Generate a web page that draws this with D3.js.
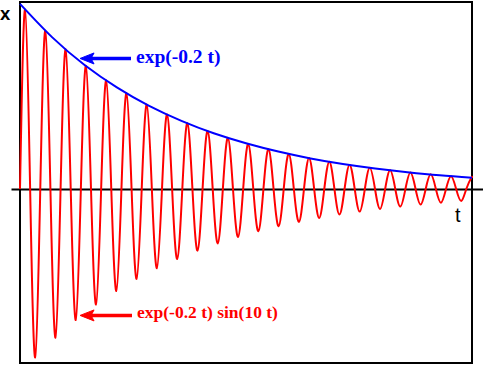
<!DOCTYPE html>
<html>
<head>
<meta charset="utf-8">
<script src="https://cdn.jsdelivr.net/npm/d3@7"></script>
<style>
  html, body { margin: 0; padding: 0; background: #fff; }
  svg { display: block; }
</style>
</head>
<body>
<svg id="chart" width="483" height="366"></svg>
<script>
// ---- data ----
const curveT = [0, 0.157, 0.314, 0.471, 0.628, 0.785, 0.942, 1.100, 1.257, 1.414,
  1.571, 1.728, 1.885, 2.042, 2.199, 2.356, 2.513, 2.670, 2.827, 2.985,
  3.142, 3.299, 3.456, 3.613, 3.770, 3.927, 4.084, 4.241, 4.398, 4.555,
  4.712, 4.869, 5.027, 5.184, 5.341, 5.498, 5.655, 5.812, 5.969, 6.126,
  6.283, 6.440, 6.597, 6.754, 6.912, 7.069, 7.226, 7.383, 7.540, 7.697,
  7.854, 8.011, 8.168, 8.325, 8.482, 8.639, 8.796, 8.954, 9.111, 9.268,
  9.425, 9.582, 9.739, 9.896, 10.053, 10.210, 10.367, 10.524, 10.681, 10.838,
  10.996, 11.153, 11.310, 11.467, 11.624, 11.781, 11.938, 12.095, 12.252, 12.409,
  12.566, 12.723, 12.881, 13.038, 13.195, 13.352, 13.509, 13.666, 13.823, 13.980,
  14.000];
const curveX = [0, 0.969, 0, -0.910, 0, 0.855, 0, -0.803, 0, 0.754,
  0, -0.708, 0, 0.665, 0, -0.624, 0, 0.586, 0, -0.551,
  0, 0.517, 0, -0.486, 0, 0.456, 0, -0.428, 0, 0.402,
  0, -0.378, 0, 0.355, 0, -0.333, 0, 0.313, 0, -0.294,
  0, 0.276, 0, -0.259, 0, 0.243, 0, -0.228, 0, 0.215,
  0, -0.201, 0, 0.189, 0, -0.178, 0, 0.167, 0, -0.157,
  0, 0.147, 0, -0.138, 0, 0.130, 0, -0.122, 0, 0.114,
  0, -0.108, 0, 0.101, 0, -0.095, 0, 0.089, 0, -0.084,
  0, 0.079, 0, -0.074, 0, 0.069, 0, -0.065, 0, 0.061,
  0.060];
const envT = [0, 1, 2, 3, 4, 5, 6, 7, 8, 9, 10, 11, 12, 13, 14];
const envX = [1, 0.819, 0.670, 0.549, 0.449, 0.368, 0.301, 0.247, 0.202, 0.165,
  0.135, 0.111, 0.091, 0.074, 0.061];
const tDomain = [0, 14];
const xDomain = [-0.94, 1.01];
const axisLabels = ["x", "t"];
const seriesLabels = ["exp(-0.2 t)", "exp(-0.2 t) sin(10 t)"];
// arrow targets (data coords) for the annotations
const arrowTargets = [[1.86, 0.705], [1.86, -0.683]];

// ---- drawing ----
const svg = d3.select("#chart");
const frame = { left: 20, right: 472, top: 2, bottom: 363 };

const x = d3.scaleLinear().domain(tDomain).range([frame.left, frame.right]);
const y = d3.scaleLinear().domain(xDomain).range([frame.bottom, frame.top]);

// horizontal axis line (x = 0)
const axisScale = d3.scaleLinear().domain(tDomain).range([11, 483]);
svg.append("g")
  .attr("transform", `translate(0,${y(0)})`)
  .call(d3.axisBottom(axisScale).tickValues([]).tickSizeOuter(0))
  .call(g => g.select(".domain").attr("stroke", "#000").attr("stroke-width", 2));

// frame
svg.append("rect")
  .attr("x", frame.left).attr("y", frame.top)
  .attr("width", frame.right - frame.left).attr("height", frame.bottom - frame.top)
  .attr("fill", "none").attr("stroke", "#000").attr("stroke-width", 2);

// red damped oscillation
const redData = curveT.map((t, i) => [t, curveX[i]]);
svg.append("path")
  .datum(redData)
  .attr("fill", "none").attr("stroke", "#ff0000").attr("stroke-width", 2)
  .attr("d", d3.line().x(d => x(d[0])).y(d => y(d[1])).curve(d3.curveNatural));

// blue envelope
const blueData = envT.map((t, i) => [t, envX[i]]);
svg.append("path")
  .datum(blueData)
  .attr("fill", "none").attr("stroke", "#0000ff").attr("stroke-width", 2)
  .attr("d", d3.line().x(d => x(d[0])).y(d => y(d[1])).curve(d3.curveNatural));

// axis labels
svg.append("text").attr("x", 0).attr("y", 19.5)
  .attr("font-family", "'Liberation Sans', Arial, sans-serif")
  .attr("font-weight", "bold").attr("font-size", 18.5).attr("fill", "#000")
  .text(axisLabels[0]);
svg.append("text").attr("x", 455).attr("y", 222)
  .attr("font-family", "'Liberation Sans', Arial, sans-serif")
  .attr("font-size", 20).attr("fill", "#000")
  .text(axisLabels[1]);

// annotations with arrows
function annotate(target, color, textX, textY, fontSize, label, lineEnd) {
  const tx = x(target[0]), ty = y(target[1]);
  svg.append("line")
    .attr("x1", tx + 10).attr("y1", ty).attr("x2", lineEnd).attr("y2", ty)
    .attr("stroke", color).attr("stroke-width", 3.5);
  svg.append("path")
    .attr("d", `M${tx},${ty} L${tx + 14},${ty - 5.5} L${tx + 11},${ty} L${tx + 14},${ty + 5.5} Z`)
    .attr("fill", color).attr("stroke", color).attr("stroke-width", 1);
  svg.append("text").attr("x", textX).attr("y", textY)
    .attr("font-family", "'Liberation Serif', 'Times New Roman', serif")
    .attr("font-weight", "bold").attr("font-size", fontSize).attr("fill", color)
    .text(label);
}
annotate(arrowTargets[0], "#0000ff", 136, 63, 19.5, seriesLabels[0], 131);
annotate(arrowTargets[1], "#ff0000", 137, 318, 17.5, seriesLabels[1], 132);
</script>
</body>
</html>
